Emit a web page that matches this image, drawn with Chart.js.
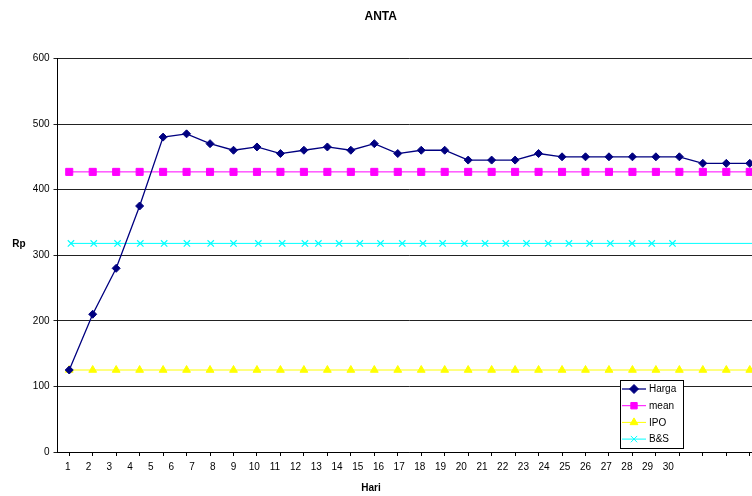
<!DOCTYPE html>
<html>
<head>
<meta charset="utf-8">
<script src="https://cdn.jsdelivr.net/npm/chart.js@4.4.1/dist/chart.umd.min.js"></script>
<style>
  html, body { margin: 0; padding: 0; background: #fff; overflow: hidden; }
  #wrap { width: 780px; height: 496px; }
</style>
</head>
<body>
<div id="wrap"><canvas id="myChart" width="780" height="496"></canvas></div>
<script>
// data
const days = ["1","2","3","4","5","6","7","8","9","10","11","12","13","14","15",
  "16","17","18","19","20","21","22","23","24","25","26","27","28","29","30"];
// the axis under the plot shows 1..30 with a few empty slots after them
const dayLabels = days.concat(["", "", "", ""]);

const harga = [125, 210, 280, 375, 480, 485, 470, 460, 465, 455, 460, 465, 460, 470, 455,
  460, 460, 445, 445, 445, 455, 450, 450, 450, 450, 450, 450, 440, 440, 440];
const mean = [427, 427, 427, 427, 427, 427, 427, 427, 427, 427, 427, 427, 427, 427, 427,
  427, 427, 427, 427, 427, 427, 427, 427, 427, 427, 427, 427, 427, 427, 427];
const ipo = [125, 125, 125, 125, 125, 125, 125, 125, 125, 125, 125, 125, 125, 125, 125,
  125, 125, 125, 125, 125, 125, 125, 125, 125, 125, 125, 125, 125, 125, 125];
// B&S sits on the day-label axis (positions), last point has no marker
const bsX = [1.15, 2.25, 3.4, 4.5, 5.65, 6.75, 7.9, 9.0, 10.2, 11.35, 12.45, 13.1, 14.1, 15.1, 16.1,
  17.15, 18.15, 19.1, 20.15, 21.15, 22.15, 23.15, 24.2, 25.2, 26.2, 27.2, 28.25, 29.2, 30.2, 34.5];
const bsY = [318, 318, 318, 318, 318, 318, 318, 318, 318, 318, 318, 318, 318, 318, 318,
  318, 318, 318, 318, 318, 318, 318, 318, 318, 318, 318, 318, 318, 318, 318];
const yTicks = [0, 100, 200, 300, 400, 500, 600];

const FONT = "'Liberation Sans', Arial, sans-serif";

const bsPoints = bsX.map((x, i) => ({ x: x, y: bsY[i] }));
const bsRadius = bsX.map((x, i) => (i === bsX.length - 1 ? 0 : 4.5));

// axis titles and the boxed legend inside the plot
const extras = {
  id: "extras",
  afterDraw(chart) {
    const c = chart.ctx;
    c.save();
    c.fillStyle = "#000";
    c.font = "bold 10px " + FONT;
    c.textAlign = "center";
    c.textBaseline = "middle";
    c.fillText("Rp", 19, 244);
    c.fillText("Hari", 371, 488);

    const bx = 620, by = 380, bw = 63, bh = 68;
    c.fillStyle = "#fff";
    c.fillRect(bx, by, bw, bh);
    c.strokeStyle = "#000";
    c.lineWidth = 1;
    c.strokeRect(bx + 0.5, by + 0.5, bw, bh);

    c.font = "10px " + FONT;
    c.textAlign = "left";
    chart.data.datasets.forEach((ds, i) => {
      const y = 389 + i * 16.7;
      c.strokeStyle = ds.borderColor;
      c.lineWidth = ds.borderWidth;
      c.beginPath();
      c.moveTo(622, y);
      c.lineTo(646, y);
      c.stroke();
      c.fillStyle = ds.pointBackgroundColor;
      c.strokeStyle = ds.pointBorderColor;
      c.lineWidth = 1;
      Chart.helpers.drawPoint(c, { pointStyle: ds.pointStyle, radius: 4.5, borderWidth: 1, rotation: 0 }, 634, y);
      c.fillStyle = "#000";
      c.fillText(ds.label, 649, y + 0.5);
    });
    c.restore();
  }
};

const ctx = document.getElementById("myChart").getContext("2d");

const myChart = new Chart(ctx, {
  type: "line",
  data: {
    labels: days,
    datasets: [
      {
        label: "Harga",
        data: harga,
        borderColor: "#000080",
        borderWidth: 1.3,
        pointStyle: "rectRot",
        pointRadius: 4,
        pointBackgroundColor: "#000080",
        pointBorderColor: "#000080",
        pointBorderWidth: 1,
        tension: 0,
        order: 0,
      },
      {
        label: "mean",
        data: mean,
        borderColor: "#FF00FF",
        borderWidth: 1,
        pointStyle: "rect",
        pointRadius: 5,
        pointBackgroundColor: "#FF00FF",
        pointBorderColor: "#FF00FF",
        pointBorderWidth: 1,
        order: 1,
      },
      {
        label: "IPO",
        data: ipo,
        borderColor: "#FFFF00",
        borderWidth: 1,
        pointStyle: "triangle",
        pointRadius: 4.5,
        pointBackgroundColor: "#FFFF00",
        pointBorderColor: "#FFFF00",
        pointBorderWidth: 1,
        order: 2,
      },
      {
        label: "B&S",
        data: bsPoints,
        xAxisID: "xb",
        borderColor: "#00FFFF",
        borderWidth: 1,
        pointStyle: "crossRot",
        pointRadius: bsRadius,
        pointBackgroundColor: "#00FFFF",
        pointBorderColor: "#00FFFF",
        pointBorderWidth: 1.2,
        order: 3,
      },
    ],
  },
  options: {
    responsive: false,
    animation: false,
    layout: { padding: { left: 0, right: 18.5, top: 0, bottom: 23 } },
    plugins: {
      legend: { display: false },
      tooltip: { enabled: false },
      title: {
        display: true,
        text: "ANTA",
        color: "#000",
        font: { family: FONT, size: 12, weight: "bold" },
        padding: { top: 9, bottom: 35 },
      },
    },
    scales: {
      x: {
        type: "category",
        position: "bottom",
        offset: true,
        weight: 0,
        grid: { display: true, drawOnChartArea: false, drawTicks: true, tickLength: 4, color: "#000" },
        border: { display: true, color: "#000", width: 1 },
        ticks: { display: false },
        afterFit: (scale) => { scale.height = 4; },
      },
      xl: {
        type: "category",
        position: "bottom",
        labels: dayLabels,
        offset: true,
        weight: 1,
        grid: { display: false, drawTicks: false, tickLength: 0 },
        border: { display: false },
        ticks: {
          autoSkip: false,
          maxRotation: 0,
          padding: 5,
          color: "#000",
          font: { family: FONT, size: 10 },
        },
        afterFit: (scale) => { scale.height = 17; },
      },
      xb: {
        type: "linear",
        display: false,
        min: 0.5,
        max: 34.5,
      },
      y: {
        min: yTicks[0],
        max: yTicks[yTicks.length - 1],
        afterBuildTicks: (scale) => { scale.ticks = yTicks.map((v) => ({ value: v })); },
        grid: { color: "#222", lineWidth: 1, drawTicks: true, tickLength: 4 },
        border: { display: true, color: "#000", width: 1 },
        ticks: {
          padding: 4,
          color: "#000",
          font: { family: FONT, size: 10 },
        },
        afterFit: (scale) => { scale.width = 57.5; },
      },
    },
  },
  plugins: [extras],
});
</script>
</body>
</html>
